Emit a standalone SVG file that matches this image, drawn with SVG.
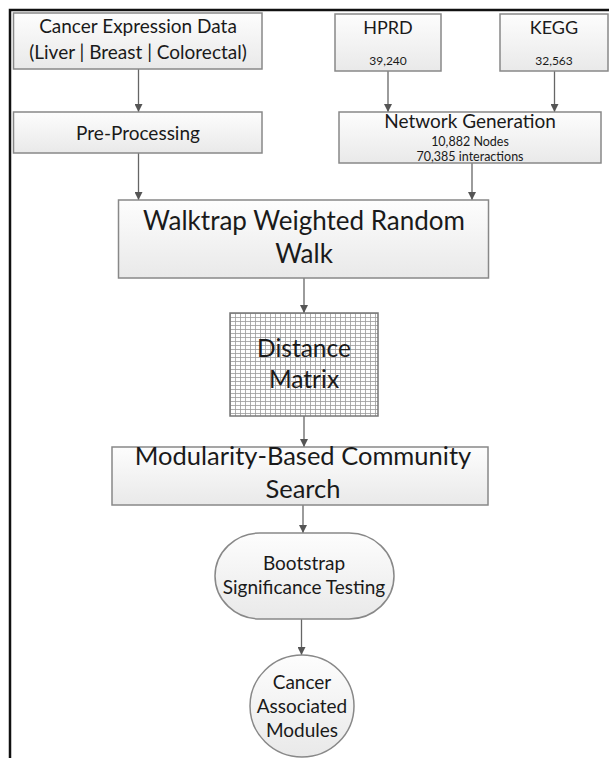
<svg xmlns="http://www.w3.org/2000/svg" width="609" height="758" viewBox="0 0 609 758">
<style>
.box{stroke:#888;stroke-width:1.5;fill:url(#g)}
.t{font-family:Lato,"Open Sans",sans-serif;fill:#1a1a1a;text-anchor:middle}
.conn{stroke:#666;stroke-width:1.3;fill:none;marker-end:url(#ah)}
</style>
<defs>
<linearGradient id="g" x1="0" y1="0" x2="0" y2="1">
<stop offset="0" stop-color="#fdfdfd"/>
<stop offset="1" stop-color="#e9e9e9"/>
</linearGradient>
<pattern id="grid" x="230" y="313" width="5" height="4" patternUnits="userSpaceOnUse">
<rect width="5" height="4" fill="#fff"/>
<path d="M0.5 0V4M0 0.5H5" stroke="#9a9a9a" stroke-width="0.8"/>
</pattern>
<marker id="ah" markerWidth="8" markerHeight="8" refX="8" refY="4" orient="auto" markerUnits="userSpaceOnUse">
<path d="M0 0L8 4L0 8Z" fill="#555"/>
</marker>
</defs>
<rect width="609" height="758" fill="#fff"/>
<path d="M10 758V10H609" stroke="#111" stroke-width="2.5" fill="none"/>
<g id="connectors">
<line class="conn" x1="138.5" y1="69" x2="138.5" y2="112"/>
<line class="conn" x1="388" y1="71" x2="388" y2="112"/>
<line class="conn" x1="554.5" y1="71" x2="554.5" y2="112"/>
<line class="conn" x1="138.5" y1="153" x2="138.5" y2="200"/>
<line class="conn" x1="472" y1="163" x2="472" y2="200"/>
<line class="conn" x1="304" y1="278" x2="304" y2="313"/>
<line class="conn" x1="304" y1="416" x2="304" y2="447"/>
<line class="conn" x1="303" y1="505" x2="303" y2="533"/>
<line class="conn" x1="301.5" y1="619" x2="301.5" y2="655"/>
</g>
<g id="cancer-data">
<rect class="box" x="13.5" y="13" width="248.5" height="56"/>
<text class="t" x="138" y="33" font-size="19">Cancer Expression Data</text>
<text class="t" x="138" y="59" font-size="19">(Liver | Breast | Colorectal)</text>
</g>
<g id="hprd">
<rect class="box" x="335" y="14" width="106" height="57"/>
<text class="t" x="388" y="34" font-size="18">HPRD</text>
<text class="t" x="388" y="65" font-size="12">39,240</text>
</g>
<g id="kegg">
<rect class="box" x="500" y="14" width="108" height="57"/>
<text class="t" x="554" y="34" font-size="18">KEGG</text>
<text class="t" x="554" y="65" font-size="12">32,563</text>
</g>
<g id="preprocessing">
<rect class="box" x="13.5" y="112" width="248.5" height="41"/>
<text class="t" x="138" y="140" font-size="19">Pre-Processing</text>
</g>
<g id="network-generation">
<rect class="box" x="339" y="112" width="262" height="51"/>
<text class="t" x="470" y="128" font-size="19">Network Generation</text>
<text class="t" x="470" y="146" font-size="12.5">10,882 Nodes</text>
<text class="t" x="470" y="161" font-size="12.5">70,385 interactions</text>
</g>
<g id="walktrap">
<rect class="box" x="118.5" y="200" width="370" height="78"/>
<text class="t" x="304" y="230" font-size="26">Walktrap Weighted Random</text>
<text class="t" x="304" y="263" font-size="26">Walk</text>
</g>
<g id="distance-matrix">
<rect x="230" y="313" width="148" height="103" fill="url(#grid)" stroke="#777" stroke-width="1.5"/>
<text class="t" x="304" y="357" font-size="24.5">Distance</text>
<text class="t" x="304" y="388" font-size="24.5">Matrix</text>
</g>
<g id="modularity">
<rect class="box" x="112" y="447" width="376" height="58"/>
<text class="t" x="303" y="465" font-size="25.5">Modularity-Based Community</text>
<text class="t" x="303" y="498" font-size="25.5">Search</text>
</g>
<g id="bootstrap">
<rect class="box" x="215" y="533" width="179" height="86" rx="45" ry="43"/>
<text class="t" x="304" y="570" font-size="19">Bootstrap</text>
<text class="t" x="304" y="594" font-size="19">Significance Testing</text>
</g>
<g id="modules">
<ellipse class="box" cx="302" cy="706" rx="52" ry="51"/>
<text class="t" x="302" y="689" font-size="19">Cancer</text>
<text class="t" x="302" y="713" font-size="19">Associated</text>
<text class="t" x="302" y="737" font-size="19">Modules</text>
</g>
</svg>
